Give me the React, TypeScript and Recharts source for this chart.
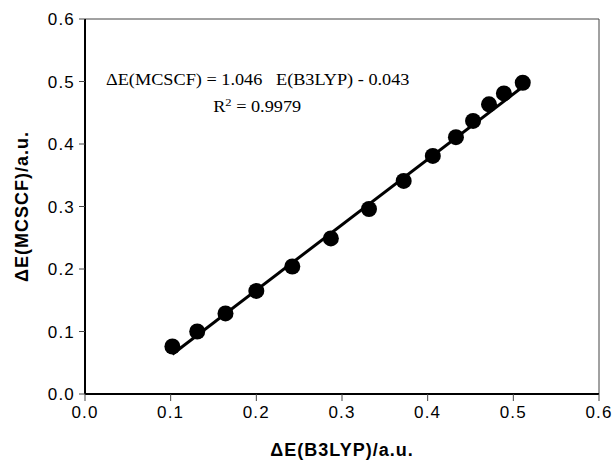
import { ScatterChart, Scatter, XAxis, YAxis, ReferenceLine } from "recharts";

const b3lyp = [0.102, 0.131, 0.164, 0.2, 0.242, 0.287, 0.3315, 0.372, 0.406, 0.433, 0.453, 0.4716, 0.489, 0.511];
const mcscf = [0.076, 0.1, 0.129, 0.165, 0.204, 0.249, 0.296, 0.341, 0.381, 0.411, 0.437, 0.4635, 0.481, 0.498];
const fitX = [0.102, 0.511];
const fitY = [0.0637, 0.4915];
const ticks = [0, 0.1, 0.2, 0.3, 0.4, 0.5, 0.6];

const points = b3lyp.map((x, i) => ({ x, y: mcscf[i] }));
const fitLine = fitX.map((x, i) => ({ x, y: fitY[i] }));

const axisFont = { fontFamily: "Liberation Sans, Arial, sans-serif", fontSize: 17, fill: "#000", letterSpacing: 1.2 };
const titleFont = { fontFamily: "Liberation Sans, Arial, sans-serif", fontSize: 18, fill: "#000", fontWeight: "bold", letterSpacing: 1 };

const Dot = (props: any) => <circle cx={props.cx} cy={props.cy} r={8} fill="#000" />;
const NoDot = () => <g />;

export default function App() {
    return (
        <div style={{ position: "absolute", left: 0, top: 0, width: 616, height: 460, background: "#fff" }}>
            <ScatterChart width={616} height={460} margin={{ top: 19, right: 17, left: 0, bottom: 0 }}>
                <XAxis
                    type="number"
                    dataKey="x"
                    domain={[0, 0.6]}
                    ticks={ticks}
                    tickFormatter={(v) => v.toFixed(1)}
                    axisLine={{ stroke: "#000", strokeWidth: 2 }}
                    tickLine={{ stroke: "#444" }}
                    tickSize={7}
                    tickMargin={5}
                    tick={axisFont}
                    height={66}
                    label={{
                        value: "ΔE(B3LYP)/a.u.",
                        position: "insideBottom",
                        offset: 4,
                        style: titleFont,
                    }}
                />
                <YAxis
                    type="number"
                    dataKey="y"
                    domain={[0, 0.6]}
                    ticks={ticks}
                    tickFormatter={(v) => v.toFixed(1)}
                    axisLine={{ stroke: "#000", strokeWidth: 2 }}
                    tickLine={{ stroke: "#444" }}
                    tickSize={6}
                    tickMargin={4}
                    tick={axisFont}
                    width={85}
                    label={{
                        value: "ΔE(MCSCF)/a.u.",
                        angle: -90,
                        position: "insideLeft",
                        offset: 22,
                        style: { ...titleFont, textAnchor: "middle" },
                    }}
                />
                <ReferenceLine y={0.6} stroke="#444" strokeWidth={1} />
                <ReferenceLine x={0.6} stroke="#444" strokeWidth={1} />
                <Scatter
                    data={fitLine}
                    line={{ stroke: "#000", strokeWidth: 3 }}
                    shape={NoDot}
                    isAnimationActive={false}
                />
                <Scatter data={points} shape={Dot} isAnimationActive={false} />
            </ScatterChart>
            <div
                style={{
                    position: "absolute",
                    left: 106,
                    top: 68,
                    fontFamily: "Liberation Serif, Times New Roman, serif",
                    fontSize: 16,
                    color: "#000",
                    whiteSpace: "pre",
                    lineHeight: "23px",
                    transform: "scaleX(1.14)",
                    transformOrigin: "left top",
                }}
            >
                <div>{"ΔE(MCSCF) = 1.046   E(B3LYP) - 0.043"}</div>
                <div style={{ paddingLeft: 94 }}>
                    R<sup style={{ fontSize: 11 }}>2</sup> = 0.9979
                </div>
            </div>
        </div>
    );
}
